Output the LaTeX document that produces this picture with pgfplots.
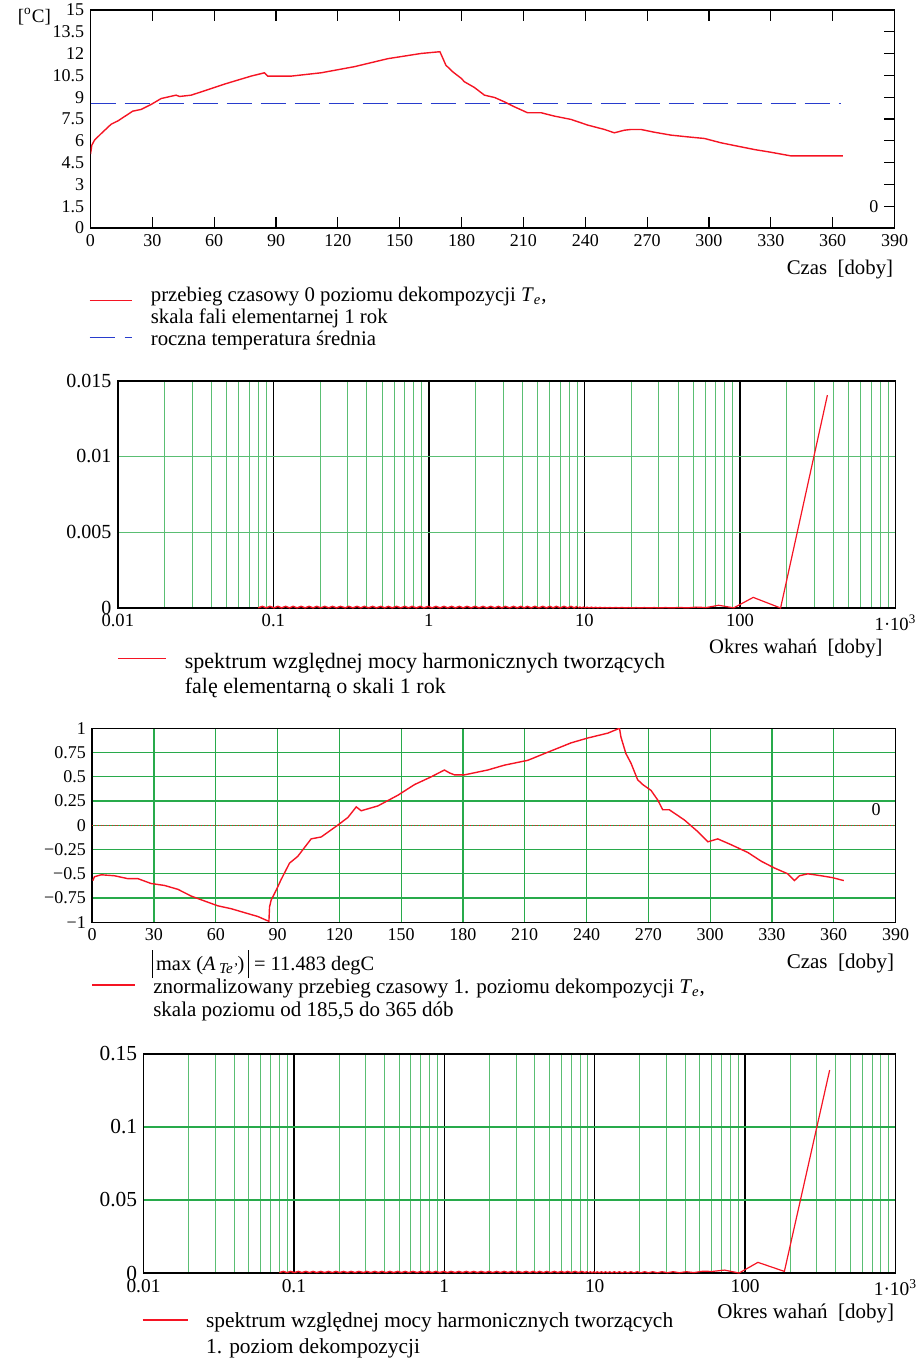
\documentclass[border=0pt]{standalone}
\usepackage{fontspec}
\setmainfont{Liberation Serif}
\usepackage{pgfplots}
\pgfplotsset{compat=1.18}
\definecolor{gridg}{RGB}{90,190,115}
\definecolor{gridg3}{RGB}{40,170,75}
\definecolor{cred}{RGB}{245,20,35}
\definecolor{cblue}{RGB}{40,60,205}
\newcommand\fz[1]{\fontsize{#1}{#1}\selectfont}
\pgfplotsset{
  mc/.style={scale only axis, anchor=north west,
    axis line style={black,line width=0.8pt},
    scaled ticks=false,
    /pgf/number format/assume math mode=true},
}
\begin{document}
\fz{9}
\begin{tikzpicture}[x=1pt,y=1pt]

% ---------------- Panel 1 ----------------
\begin{axis}[mc, at={(43pt,-5pt)}, width=402pt, height=109pt,
  tick label style={font=\fz{9}},
  xmin=0, xmax=390, ymin=0, ymax=15,
  xtick={0,30,60,90,120,150,180,210,240,270,300,330,360,390},
  xticklabels={0,30,60,90,120,150,180,210,240,270,300,330,360,390},
  ytick={0,1.5,3,4.5,6,7.5,9,10.5,12,13.5,15},
  yticklabels={0,1.5,3,4.5,6,7.5,9,10.5,12,13.5,15},
  ytick pos=right, yticklabel pos=left,
  tick align=inside, major tick length=5.5pt,
  tick style={black,line width=0.6pt}]
\addplot[cblue, line width=0.75pt, dash pattern=on 12.5pt off 4.5pt] coordinates {(0,8.58) (364,8.58)};
\addplot[cred, line width=0.7pt] coordinates {
(0,5.08)(0.65,5.7)(1.94,6.04)(5.2,6.5)(10,7.14)(13.3,7.37)(20.5,8.04)(24.6,8.16)(29.4,8.5)(34.3,8.91)(41.5,9.14)(43.2,9.05)(48.8,9.14)(55.3,9.44)(65,9.9)(71.5,10.18)(77.9,10.45)(84.4,10.68)(86,10.45)(97.3,10.45)(111.9,10.68)(128,11.1)(144.2,11.65)(160.4,12.01)(169.5,12.13)(172.4,11.2)(175.7,10.75)(179.8,10.3)(181.4,10.06)(186.2,9.67)(191.1,9.14)(196,8.98)(200.8,8.68)(205.6,8.34)(212,7.93)(218.6,7.93)(225,7.7)(233.1,7.47)(241.2,7.08)(249.3,6.78)(254.1,6.55)(259,6.73)(262.2,6.78)(267,6.78)(273.5,6.59)(281.6,6.39)(289.7,6.27)(297.8,6.16)(305.9,5.86)(313.9,5.63)(322,5.4)(330.1,5.21)(339.8,4.96)(364.9,4.96)};
\node[inner sep=0,font=\fz{9}] at (axis cs:380,1.45) {0};
\end{axis}
\node[anchor=west,inner sep=0,font=\fz{9.5}] at (6.5,-8.3) {[\textsuperscript{o}C]};
\node[anchor=base east,inner sep=0,font=\fz{10.4}] at (444.5,-137) {Czas\ \ [doby]};
\draw[cred,line width=0.8pt] (42.5,-150.3) -- (63.5,-150.3);
\begin{scope}[every node/.style={anchor=base west,inner sep=0,font=\fz{10.4}}]
\node at (73,-150.5) {przebieg czasowy 0 poziomu dekompozycji \textit{T}\textsubscript{\textit{e}},};
\node at (73,-161.5) {skala fali elementarnej 1 rok};
\node at (73,-172.5) {roczna temperatura średnia};
\end{scope}
\draw[cblue,line width=0.8pt] (42.5,-168.7) -- (55,-168.7) (60,-168.7) -- (63.5,-168.7);

% ---------------- Panel 2 ----------------
\begin{axis}[mc, at={(56.65pt,-190.35pt)}, width=388.85pt, height=113.65pt,
  xticklabel style={font=\fz{9.3}}, yticklabel style={font=\fz{10}},
  xmode=log, xmin=0.01, xmax=1000, ymin=0, ymax=0.015,
  xtick={0.01,0.1,1,10,100,1000},
  xticklabels={0.01,0.1,1,10,100,1·10\textsuperscript{3}},
  minor xtick={0.02,0.03,0.04,0.05,0.06,0.07,0.08,0.09,0.2,0.3,0.4,0.5,0.6,0.7,0.8,0.9,2,3,4,5,6,7,8,9,20,30,40,50,60,70,80,90,200,300,400,500,600,700,800,900},
  ytick={0,0.005,0.01,0.015},
  yticklabels={0,0.005,0.01,0.015},
  xmajorgrids, xminorgrids, ymajorgrids,
  major x grid style={black,line width=0.7pt},
  minor x grid style={gridg,line width=0.5pt},
  major y grid style={gridg,line width=0.6pt},
  major tick length=0pt, minor tick length=0pt]
\addplot[cred, line width=0.6pt] coordinates {
(365,0.01405)(182.5,0)(121.7,0.0007)(91.25,0.00001)(73,0.00018)(60.8,0.00003)(52.1,0.00006)(45.6,0.00001)(40.6,0.00004)(36.5,0.00001)(33.2,0.00003)(30.4,0.00001)(28.1,0.00003)(26.1,0.00001)(24.3,0.00003)(22.8,0.00001)(21.5,0.00003)(20.3,0.00001)(19.2,0.00003)(18.25,0.00001)(17.4,0.00004)(16.6,0.00001)(15.9,0.00004)(15.2,0.00001)(14.6,0.00004)(14.0,0.00001)(13.5,0.00004)(13.0,0.00001)(12.6,0.00005)(12.2,0.00001)(11.8,0.00005)(11.4,0.00001)(11.1,0.00006)(10.7,0.00001)(10.4,0.00006)(10.1,0.00001)(9.86,0.00007)(9.6,0.00001)(9.36,0.00007)(9.1,0.00001)};
\addplot[cred, line width=0.7pt] coordinates {
(9.0,0.00011)(8.6,0.00001)(8.2,0.00011)(7.8,0.00001)(7.4,0.00011)(7.0,0.00001)(6.6,0.00011)(6.3,0.00001)(6.0,0.00011)(5.7,0.00001)(5.4,0.00011)(5.1,0.00001)(4.8,0.00011)(4.55,0.00001)(4.3,0.00011)(4.1,0.00001)(3.9,0.00011)(3.7,0.00001)(3.5,0.00011)(3.3,0.00001)(3.1,0.00011)(2.95,0.00001)(2.8,0.00011)(2.65,0.00001)(2.5,0.00011)(2.36,0.00001)(2.23,0.00011)(2.1,0.00001)(1.98,0.00011)(1.87,0.00001)(1.76,0.00011)(1.66,0.00001)(1.57,0.00011)(1.48,0.00001)(1.4,0.00011)(1.32,0.00001)(1.25,0.00011)(1.18,0.00001)(1.11,0.00011)(1.05,0.00001)(0.99,0.00011)(0.93,0.00001)(0.88,0.00011)(0.83,0.00001)(0.78,0.00011)(0.74,0.00001)(0.7,0.00011)(0.66,0.00001)(0.62,0.00011)(0.58,0.00001)(0.55,0.00011)(0.52,0.00001)(0.49,0.00011)(0.46,0.00001)(0.435,0.00011)(0.41,0.00001)(0.385,0.00011)(0.365,0.00001)(0.345,0.00011)(0.325,0.00001)(0.305,0.00011)(0.29,0.00001)(0.27,0.00011)(0.255,0.00001)(0.24,0.00011)(0.227,0.00001)(0.214,0.00011)(0.202,0.00001)(0.19,0.00011)(0.18,0.00001)(0.17,0.00011)(0.16,0.00001)(0.151,0.00011)(0.142,0.00001)(0.134,0.00011)(0.127,0.00001)(0.12,0.00011)(0.113,0.00001)(0.107,0.00011)(0.101,0.00001)(0.095,0.00011)(0.09,0.00001)(0.085,0.00011)(0.08,0.00001)};
\end{axis}
\node[anchor=base east,inner sep=0,font=\fz{10.3}] at (439.2,-326.7) {Okres wahań\ \ [doby]};
\draw[cred,line width=0.8pt] (56.7,-329.2) -- (80.5,-329.2);
\begin{scope}[every node/.style={anchor=base west,inner sep=0,font=\fz{11}}]
\node at (90,-334.2) {spektrum względnej mocy harmonicznych tworzących};
\node at (90,-346.7) {falę elementarną o skali 1 rok};
\end{scope}

% ---------------- Panel 3 ----------------
\begin{axis}[mc, at={(43.85pt,-364.15pt)}, width=401.65pt, height=97pt,
  tick label style={font=\fz{9}},
  xmin=0, xmax=390, ymin=-1, ymax=1,
  xtick={0,30,60,90,120,150,180,210,240,270,300,330,360,390},
  xticklabels={0,30,60,90,120,150,180,210,240,270,300,330,360,390},
  ytick={-1,-0.75,-0.5,-0.25,0,0.25,0.5,0.75,1},
  yticklabels={−1,−0.75,−0.5,−0.25,0,0.25,0.5,0.75,1},
  grid=major, major grid style={gridg3,line width=0.6pt},
  major tick length=0pt]
\addplot[cred, densely dotted, line width=0.4pt] coordinates {(0,0) (390,0)};
\addplot[cred, line width=0.7pt] coordinates {
(0.3,-0.57)(1.1,-0.53)(4.4,-0.51)(10.8,-0.52)(17.3,-0.55)(22.2,-0.55)(28.6,-0.60)(35.1,-0.62)(41.6,-0.66)(48.1,-0.73)(54.5,-0.78)(61,-0.83)(67.5,-0.86)(73.9,-0.90)(80.4,-0.94)(85.8,-0.99)(86.1,-0.84)(86.9,-0.77)(89.3,-0.67)(91.7,-0.56)(95.8,-0.39)(99.8,-0.32)(106.3,-0.14)(111.2,-0.12)(119.3,0.003)(124.1,0.08)(128.2,0.19)(130.6,0.15)(138.7,0.20)(148.4,0.31)(156.5,0.42)(164.6,0.50)(171,0.57)(173.5,0.54)(175.9,0.52)(180.7,0.52)(192,0.57)(200.1,0.62)(211.5,0.67)(219.6,0.74)(232.5,0.85)(240.6,0.90)(250.3,0.95)(256,1.0)(256.7,0.91)(259.1,0.74)(261.6,0.64)(264.8,0.47)(267.3,0.42)(271.3,0.36)(274.6,0.26)(277,0.16)(280.2,0.16)(287.5,0.055)(294,-0.065)(298.9,-0.17)(303.7,-0.14)(310.2,-0.20)(318.3,-0.28)(324.8,-0.37)(331.2,-0.44)(337.7,-0.50)(340.9,-0.57)(343.4,-0.52)(347.4,-0.50)(353.9,-0.52)(359.5,-0.54)(364.9,-0.57)};
\node[inner sep=0,font=\fz{9}] at (axis cs:380.6,0.165) {0};
\end{axis}
\node[anchor=base west,inner sep=0,font=\fz{10.2}] at (73.3,-485) {\rule[-4pt]{0.6pt}{14pt}\,max (\textit{A}\,\raisebox{-1.5pt}{\fz{7.5}\textit{Te'}})\,\rule[-4pt]{0.6pt}{14pt} = 11.483 degC};
\node[anchor=base east,inner sep=0,font=\fz{10.5}] at (445,-484.2) {Czas\ \ [doby]};
\draw[cred,line width=0.8pt] (43.8,-492.5) -- (65.3,-492.5);
\begin{scope}[every node/.style={anchor=base west,inner sep=0,font=\fz{10.5}}]
\node at (74.2,-496.7) {znormalizowany przebieg czasowy 1. poziomu dekompozycji \textit{T}\textsubscript{\textit{e}},};
\node at (74.2,-508) {skala poziomu od 185,5 do 365 dób};
\end{scope}

% ---------------- Panel 4 ----------------
\begin{axis}[mc, at={(69.5pt,-527pt)}, width=376pt, height=109.5pt,
  xticklabel style={font=\fz{9.7}}, yticklabel style={font=\fz{10.7}},
  xmode=log, xmin=0.01, xmax=1000, ymin=0, ymax=0.15,
  xtick={0.01,0.1,1,10,100,1000},
  xticklabels={0.01,0.1,1,10,100,1·10\textsuperscript{3}},
  minor xtick={0.02,0.03,0.04,0.05,0.06,0.07,0.08,0.09,0.2,0.3,0.4,0.5,0.6,0.7,0.8,0.9,2,3,4,5,6,7,8,9,20,30,40,50,60,70,80,90,200,300,400,500,600,700,800,900},
  ytick={0,0.05,0.1,0.15},
  yticklabels={0,0.05,0.1,0.15},
  xmajorgrids, xminorgrids, ymajorgrids,
  major x grid style={black,line width=0.7pt},
  minor x grid style={gridg,line width=0.5pt},
  major y grid style={gridg3,line width=0.6pt},
  major tick length=0pt, minor tick length=0pt]
\addplot[cred, line width=0.6pt] coordinates {
(365,0.139)(182.5,0.0011)(121.7,0.0073)(91.25,0.0)(73,0.002)(60.8,0.0011)(52.1,0.0012)(45.6,0.0003)(40.6,0.0009)(36.5,0.0002)(33.2,0.0009)(30.4,0.0002)(28.1,0.0009)(26.1,0.0002)(24.3,0.0009)(22.8,0.0002)(21.5,0.0009)(20.3,0.0002)(19.2,0.0009)(18.25,0.0002)(17.4,0.0009)(16.6,0.0002)(15.9,0.0009)(15.2,0.0002)(14.6,0.0009)(14.0,0.0002)(13.5,0.0009)(13.0,0.0002)(12.6,0.0009)(12.2,0.0002)(11.8,0.0009)(11.4,0.0002)(11.1,0.0009)(10.7,0.0002)(10.4,0.0009)(10.1,0.0002)(9.86,0.0009)(9.6,0.0002)(9.36,0.0009)(9.1,0.0002)};
\addplot[cred, line width=0.7pt] coordinates {
(9.0,0.0011)(8.6,0.0003)(8.2,0.0011)(7.8,0.0003)(7.4,0.0011)(7.0,0.0003)(6.6,0.0011)(6.3,0.0003)(6.0,0.0011)(5.7,0.0003)(5.4,0.0011)(5.1,0.0003)(4.8,0.0011)(4.55,0.0003)(4.3,0.0011)(4.1,0.0003)(3.9,0.0011)(3.7,0.0003)(3.5,0.0011)(3.3,0.0003)(3.1,0.0011)(2.95,0.0003)(2.8,0.0011)(2.65,0.0003)(2.5,0.0011)(2.36,0.0003)(2.23,0.0011)(2.1,0.0003)(1.98,0.0011)(1.87,0.0003)(1.76,0.0011)(1.66,0.0003)(1.57,0.0011)(1.48,0.0003)(1.4,0.0011)(1.32,0.0003)(1.25,0.0011)(1.18,0.0003)(1.11,0.0011)(1.05,0.0003)(0.99,0.0011)(0.93,0.0003)(0.88,0.0011)(0.83,0.0003)(0.78,0.0011)(0.74,0.0003)(0.7,0.0011)(0.66,0.0003)(0.62,0.0011)(0.58,0.0003)(0.55,0.0011)(0.52,0.0003)(0.49,0.0011)(0.46,0.0003)(0.435,0.0011)(0.41,0.0003)(0.385,0.0011)(0.365,0.0003)(0.345,0.0011)(0.325,0.0003)(0.305,0.0011)(0.29,0.0003)(0.27,0.0011)(0.255,0.0003)(0.24,0.0011)(0.227,0.0003)(0.214,0.0011)(0.202,0.0003)(0.19,0.0011)(0.18,0.0003)(0.17,0.0011)(0.16,0.0003)(0.151,0.0011)(0.142,0.0003)(0.134,0.0011)(0.127,0.0003)(0.12,0.0011)(0.113,0.0003)(0.107,0.0011)(0.101,0.0003)(0.095,0.0011)(0.09,0.0003)(0.085,0.0011)(0.08,0.0003)};
\end{axis}
\node[anchor=base east,inner sep=0,font=\fz{10.5}] at (445,-659.2) {Okres wahań\ \ [doby]};
\draw[cred,line width=0.8pt] (69,-660) -- (91.8,-660);
\begin{scope}[every node/.style={anchor=base west,inner sep=0,font=\fz{10.7}}]
\node at (100.6,-663.7) {spektrum względnej mocy harmonicznych tworzących};
\node at (100.6,-676.7) {1. poziom dekompozycji};
\end{scope}
\pgfresetboundingbox
\path[use as bounding box] (0,0) rectangle (457,-680);
\end{tikzpicture}
\end{document}
